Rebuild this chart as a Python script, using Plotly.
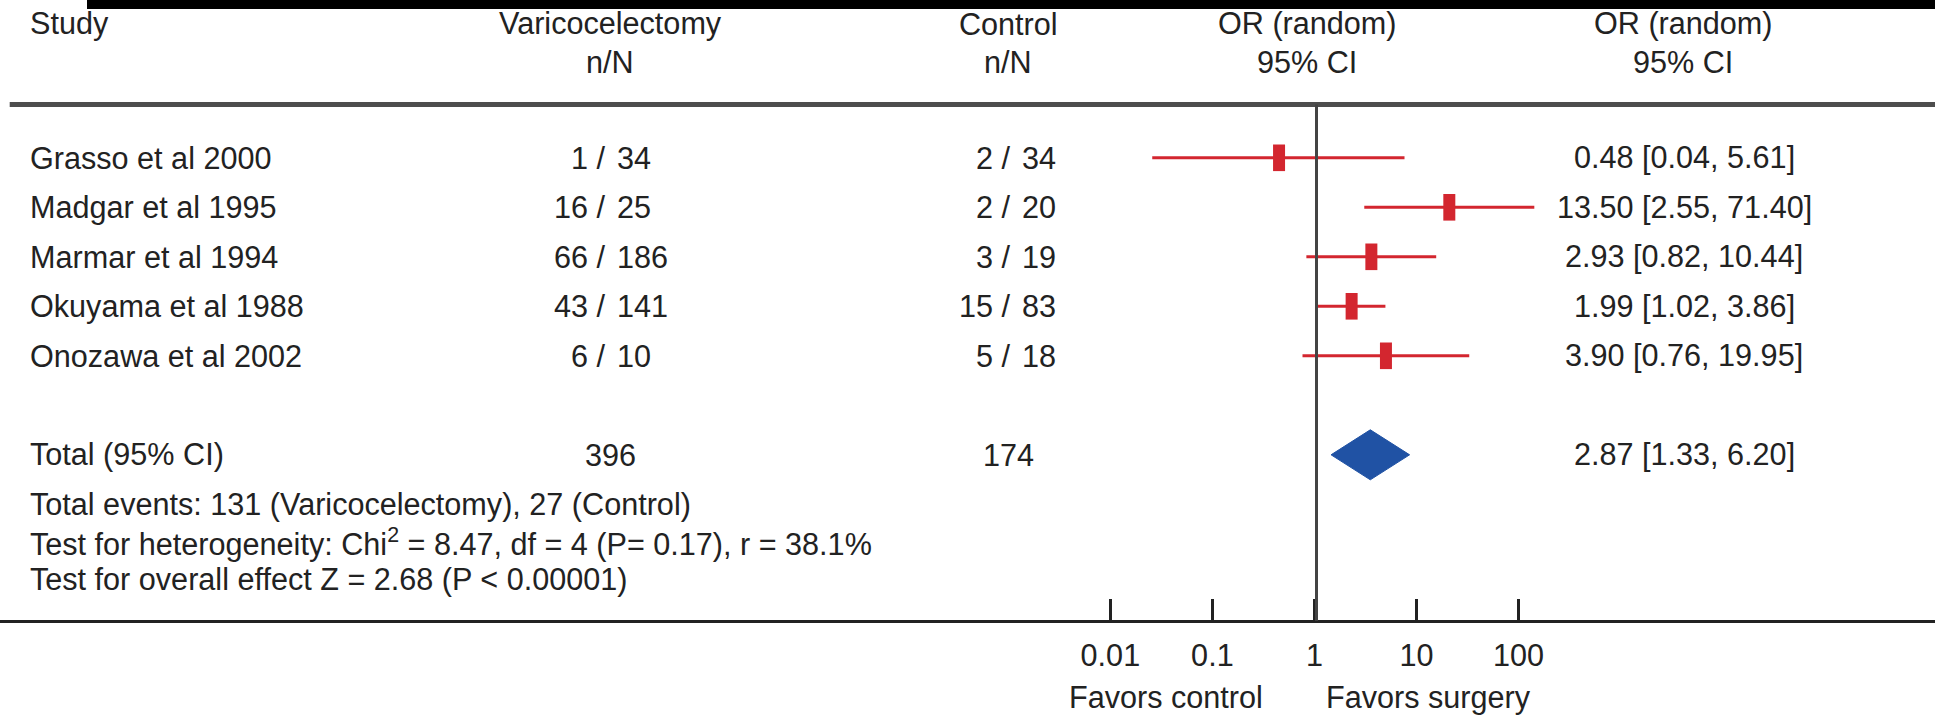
import plotly.graph_objects as go

# ---------------- data ----------------
studies = ["Grasso et al 2000", "Madgar et al 1995", "Marmar et al 1994",
           "Okuyama et al 1988", "Onozawa et al 2002"]
var_n = [1, 16, 66, 43, 6]
var_N = [34, 25, 186, 141, 10]
ctl_n = [2, 2, 3, 15, 5]
ctl_N = [34, 20, 19, 83, 18]
or_est = [0.48, 13.50, 2.93, 1.99, 3.90]
or_lo = [0.04, 2.55, 0.82, 1.02, 0.76]
or_hi = [5.61, 71.40, 10.44, 3.86, 19.95]

total_var_N = 396
total_ctl_N = 174
total_or = 2.87
total_lo = 1.33
total_hi = 6.20

events_var = 131
events_ctl = 27
chi2 = 8.47
df = 4
p_het = 0.17
i2 = 38.1
z_val = 2.68

tick_values = [0.01, 0.1, 1, 10, 100]
tick_labels = ["0.01", "0.1", "1", "10", "100"]

# ---------------- layout helpers ----------------
W, H = 1935, 715
FONT = "Liberation Sans, Arial, Helvetica, sans-serif"
TXT = "#222222"
RED = "#D3262F"
BLUE = "#2052A4"
FS = 30.6


def px(x):
    return x / W


def py(y):
    return 1 - y / H


ROW0 = 157.8     # pixel of first study row
PITCH = 49.5     # pixel per row
n = len(studies)
rows = list(range(n))
total_row = n + 1

# data x-axis (log) : pixel = 1316.5 + 117.5*log10(x)
DX0, DXS = 1316.5, 117.5
# tick axis (log) : pixel = 1317.5 + 101.5*log10(x)
TX0, TXS = 1317.5, 101.5
AX_LEFT = 9.7
AXIS_Y = 620.7
HEAD_LINE_Y = 104.5

fig = go.Figure()

# CI lines
xs, ys = [], []
for r, lo, hi in zip(rows, or_lo, or_hi):
    xs += [lo, hi, None]
    ys += [r, r, None]
fig.add_trace(go.Scatter(x=xs, y=ys, mode="lines",
                         line=dict(color=RED, width=3),
                         hoverinfo="skip", showlegend=False))
# boxes
fig.add_trace(go.Scatter(x=or_est, y=rows, mode="markers",
                         marker=dict(symbol="line-ns", size=19,
                                     line=dict(color=RED, width=12)),
                         hoverinfo="skip", showlegend=False))
# diamond
dh = 25 / PITCH
fig.add_trace(go.Scatter(
    x=[total_lo, total_or, total_hi, total_or, total_lo],
    y=[total_row, total_row - dh, total_row, total_row + dh, total_row],
    mode="lines", fill="toself", fillcolor=BLUE,
    line=dict(color=BLUE, width=1), hoverinfo="skip", showlegend=False))
# invisible trace to anchor the tick axis
fig.add_trace(go.Scatter(x=tick_values, y=[rows[0]] * len(tick_values),
                         xaxis="x2", mode="markers", marker=dict(opacity=0),
                         hoverinfo="skip", showlegend=False))

ann = []


def text(x, y, s, anchor="left", yref="paper", xref="paper"):
    ann.append(dict(x=x, y=y, xref=xref, yref=yref, text=s, showarrow=False,
                    xanchor=anchor, yanchor="middle", borderpad=0,
                    font=dict(family=FONT, size=FS, color=TXT)))


# headers
H1, H2 = 24, 62.5
text(px(29), py(H1), "Study")
for cx, l1, l2 in [(610, "Varicocelectomy", "n/N"), (1008, "Control", "n/N"),
                   (1307, "OR (random)", "95% CI"), (1683, "OR (random)", "95% CI")]:
    text(px(cx), py(H1), l1, "center")
    text(px(cx), py(H2), l2, "center")

SLASH_HALF = 0.278 * FS / 2
SPACE = 0.278 * FS
for r, name, a, b, c, d, e, lo, hi in zip(rows, studies, var_n, var_N, ctl_n, ctl_N,
                                          or_est, or_lo, or_hi):
    text(px(29), r, name, "left", "y")
    for sx, nn, NN in [(603, a, b), (1008, c, d)]:
        text(px(sx + SLASH_HALF), r, f"{nn} /", "right", "y")
        text(px(sx + SLASH_HALF + SPACE), r, f"{NN}", "left", "y")
    text(px(1684), r, f"{e:.2f} [{lo:.2f}, {hi:.2f}]", "center", "y")

text(px(29), total_row, "Total (95% CI)", "left", "y")
text(px(610), total_row, f"{total_var_N}", "center", "y")
text(px(1008), total_row, f"{total_ctl_N}", "center", "y")
text(px(1684), total_row, f"{total_or:.2f} [{total_lo:.2f}, {total_hi:.2f}]", "center", "y")

text(px(29), py(505), f"Total events: {events_var} (Varicocelectomy), {events_ctl} (Control)")
text(px(29), py(542), f"Test for heterogeneity: Chi<sup>2</sup> = {chi2:.2f}, df = {df} "
                      f"(P= {p_het:.2f}), r = {i2:.1f}%")
text(px(29), py(579), f"Test for overall effect Z = {z_val:.2f} (P < 0.00001)")

text(px(1166), py(697), "Favors control", "center")
text(px(1428), py(697), "Favors surgery", "center")

shapes = [
    dict(type="rect", xref="paper", yref="paper", x0=px(87), x1=1,
         y0=py(9), y1=1, fillcolor="black", line=dict(width=0), layer="above"),
    dict(type="line", xref="paper", yref="paper", x0=px(AX_LEFT), x1=1,
         y0=py(HEAD_LINE_Y), y1=py(HEAD_LINE_Y), line=dict(color="#4d4d4d", width=5)),
    dict(type="line", xref="x", yref="paper", x0=1, x1=1,
         y0=py(HEAD_LINE_Y), y1=py(AXIS_Y), line=dict(color="#444444", width=3)),
]

fig.update_layout(
    width=W, height=H,
    margin=dict(l=0, r=0, t=0, b=0),
    paper_bgcolor="white", plot_bgcolor="white",
    showlegend=False,
    annotations=ann, shapes=shapes,
    xaxis=dict(type="log", domain=[0, 1],
               range=[(0 - DX0) / DXS, (W - DX0) / DXS],
               showgrid=False, zeroline=False, showline=False,
               showticklabels=False, ticks="", fixedrange=True),
    xaxis2=dict(type="log", overlaying="x", anchor="free",
                position=py(AXIS_Y), side="bottom",
                domain=[px(AX_LEFT), 1],
                range=[(AX_LEFT - TX0) / TXS, (W - TX0) / TXS],
                tickmode="array", tickvals=tick_values, ticktext=tick_labels,
                ticks="inside", ticklen=21, tickwidth=3, tickcolor="#222222",
                showline=True, linewidth=3, linecolor="#222222",
                showgrid=False, zeroline=False,
                ticklabelstandoff=7,
                tickfont=dict(family=FONT, size=FS, color=TXT)),
    yaxis=dict(domain=[0, 1],
               range=[(H - ROW0) / PITCH, (0 - ROW0) / PITCH],
               showgrid=False, zeroline=False, showline=False,
               showticklabels=False, ticks="", fixedrange=True),
)

fig.write_html(
    "out.html",
    config={"displayModeBar": False, "staticPlot": True},
    post_script="document.body.style.margin='0';document.body.style.padding='0';"
                "document.body.style.overflow='hidden';",
)
